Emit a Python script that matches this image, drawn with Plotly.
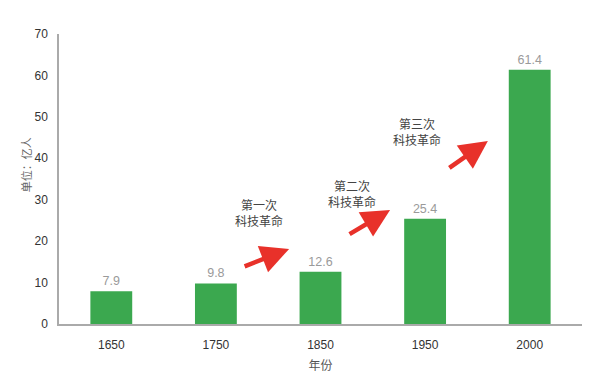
import plotly.graph_objects as go

years = ["1650", "1750", "1850", "1950", "2000"]
population = [7.9, 9.8, 12.6, 25.4, 61.4]
value_labels = ["7.9", "9.8", "12.6", "25.4", "61.4"]
y_ticks = [0, 10, 20, 30, 40, 50, 60, 70]
revolutions = ["第一次<br>科技革命", "第二次<br>科技革命", "第三次<br>科技革命"]

FONT = "Helvetica, 'Noto Sans CJK SC', 'Noto Sans', sans-serif"
GREEN = "#3ba84f"
RED = "#e8312a"

fig = go.Figure()
fig.add_trace(go.Bar(
    x=years, y=population,
    marker=dict(color=GREEN, line=dict(width=0)),
    text=value_labels, textposition="outside",
    textfont=dict(color="#9a9a9a", size=12.5, family=FONT),
    cliponaxis=False,
))

# arrow heads (domain coords) and tail offsets (pixels)
arrow_heads = [(0.440, 0.259), (0.633, 0.393), (0.820, 0.631)]
arrow_tails = [(-46, 18), (-42, 25), (-40, 28)]
text_pos = [(0.382, 0.321), (0.560, 0.445), (0.734, 0.659)]

anns = []
for (hx, hy), (ax, ay) in zip(arrow_heads, arrow_tails):
    anns.append(dict(
        x=hx, y=hy, xref="x domain", yref="y domain",
        ax=ax, ay=ay, axref="pixel", ayref="pixel",
        text="", showarrow=True, arrowhead=2, arrowsize=1.25,
        arrowwidth=4.5, arrowcolor=RED, standoff=0,
    ))
for (tx, ty), t in zip(text_pos, revolutions):
    anns.append(dict(
        x=tx, y=ty, xref="x domain", yref="y domain",
        text=t, showarrow=False, align="center",
        font=dict(size=12, color="#444444", family=FONT),
    ))
# y-axis title placed as a rotated annotation (it sits above the axis middle)
anns.append(dict(
    x=-0.078, y=0.55, xref="paper", yref="paper",
    text="单位：亿人", textangle=-90, showarrow=False,
    font=dict(size=11, color="#666666", family=FONT),
))

fig.update_layout(
    width=600, height=381,
    margin=dict(l=51, r=26, t=26, b=65),
    plot_bgcolor="white", paper_bgcolor="white",
    bargap=0.6, showlegend=False,
    font=dict(family=FONT, size=12, color="#333333"),
    annotations=anns,
    xaxis=dict(
        automargin=False,
        showline=True, linecolor="#aaaaaa", linewidth=1.5,
        ticks="outside", ticklen=9, tickcolor="rgba(0,0,0,0)",
        tickfont=dict(size=12, color="#333333"),
        title=dict(text="年份", font=dict(size=12, color="#555555"), standoff=10),
        showgrid=False, zeroline=False,
    ),
    yaxis=dict(
        automargin=False,
        range=[0, 70], tickvals=y_ticks,
        showline=True, linecolor="#aaaaaa", linewidth=1.5,
        ticks="outside", ticklen=7, tickcolor="rgba(0,0,0,0)",
        tickfont=dict(size=12, color="#333333"),
        showgrid=False, zeroline=False,
    ),
)

fig.write_html("out.html")
